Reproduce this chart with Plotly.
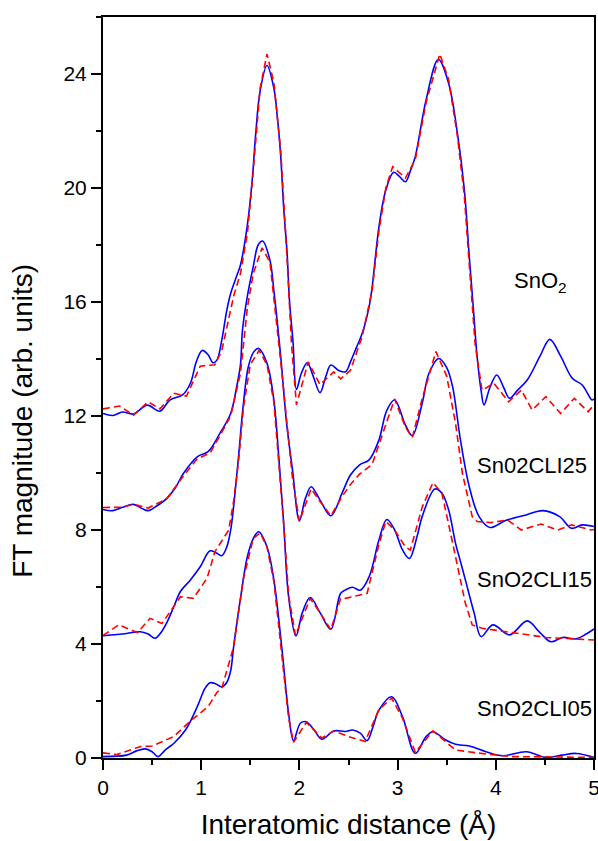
import plotly.graph_objects as go

# ---------------- data ----------------
sno2_exp_x = [0.00, 0.10, 0.20, 0.31, 0.45, 0.58, 0.68, 0.81, 0.89, 0.95, 1.01, 1.07, 1.12, 1.16, 1.21, 1.26,
              1.30, 1.36, 1.40, 1.47, 1.52, 1.555, 1.60, 1.67, 1.74, 1.775, 1.81, 1.84, 1.875, 1.90, 1.935, 1.97,
              2.02, 2.08, 2.14, 2.21, 2.27, 2.32, 2.40, 2.47, 2.52, 2.58, 2.64, 2.71, 2.74, 2.81, 2.88, 2.96,
              3.02, 3.08, 3.13, 3.18, 3.29, 3.415, 3.52, 3.61, 3.68, 3.73, 3.77, 3.81, 3.85, 3.88, 3.94, 4.01,
              4.08, 4.14, 4.22, 4.32, 4.45, 4.55, 4.66, 4.78, 4.88, 4.98, 5.00]
sno2_exp_y = [12.09, 12.02, 12.14, 12.07, 12.38, 12.17, 12.56, 12.74, 13.15, 13.9, 14.3, 14.15, 13.87, 13.96, 14.67, 15.7,
              16.3, 16.9, 17.3, 18.7, 20.3, 21.9, 23.4, 24.3, 23.5, 22.5, 21.1, 19.3, 17.7, 16.0, 14.6, 12.93,
              13.5, 13.87, 13.4, 12.82, 13.4, 13.79, 13.6, 13.55, 13.9, 14.4, 14.9, 15.84, 16.5, 18.64, 19.93, 20.55,
              20.4, 20.22, 20.6, 21.1, 23.09, 24.51, 23.67, 21.9, 19.93, 17.59, 15.84, 14.08, 12.9, 12.39, 13.0, 13.44,
              13.0, 12.62, 12.9, 13.26, 14.1, 14.69, 14.1, 13.32, 13.09, 12.56, 12.6]
sno2_fit_x = [0.00, 0.17, 0.31, 0.46, 0.58, 0.72, 0.85, 0.99, 1.14, 1.21, 1.33, 1.40, 1.47, 1.52, 1.60, 1.67,
              1.74, 1.81, 1.87, 1.92, 1.97, 2.09, 2.21, 2.35, 2.42, 2.52, 2.64, 2.74, 2.81, 2.88, 2.95, 3.08,
              3.18, 3.29, 3.43, 3.52, 3.61, 3.68, 3.73, 3.79, 3.86, 3.98, 4.13, 4.26, 4.37, 4.51, 4.66, 4.80,
              4.94, 5.00]
sno2_fit_y = [12.25, 12.35, 12.03, 12.5, 12.25, 12.8, 12.7, 13.75, 13.8, 14.3, 16.2, 17.0, 18.4, 20.2, 23.5, 24.7,
              23.7, 21.3, 17.8, 14.5, 12.39, 13.9, 13.1, 13.55, 13.3, 13.6, 14.8, 16.4, 18.5, 20.0, 20.75, 20.35,
              21.0, 23.0, 24.7, 23.8, 21.8, 19.7, 17.3, 14.5, 12.9, 13.15, 12.5, 12.91, 12.21, 12.68, 12.09, 12.62,
              12.15, 12.39]

cli25_exp_x = [0.00, 0.10, 0.20, 0.31, 0.40, 0.46, 0.55, 0.65, 0.74, 0.82, 0.96, 1.07, 1.19, 1.30, 1.36, 1.40,
               1.42, 1.47, 1.53, 1.58, 1.625, 1.70, 1.74, 1.81, 1.87, 1.93, 2.00, 2.06, 2.12, 2.21, 2.32, 2.44,
               2.52, 2.61, 2.71, 2.81, 2.89, 2.97, 3.08, 3.15, 3.25, 3.32, 3.42, 3.50, 3.56, 3.64, 3.73, 3.83,
               3.94, 4.10, 4.31, 4.48, 4.65, 4.77, 4.88, 5.00]
cli25_exp_y = [8.72, 8.68, 8.8, 8.9, 8.75, 8.68, 8.85, 9.11, 9.5, 9.99, 10.57, 10.75, 11.39, 12.09, 13.0, 13.8,
               15.0, 16.2, 17.24, 18.0, 18.14, 17.47, 16.4, 14.08, 11.74, 10.1, 8.33, 9.1, 9.52, 9.05, 8.5, 9.34,
               9.93, 10.28, 10.46, 11.16, 12.2, 12.56, 11.68, 11.31, 12.44, 13.5, 14.02, 13.7, 13.03, 11.16, 9.52, 8.47,
               8.09, 8.33, 8.53, 8.68, 8.47, 8.06, 8.18, 8.12]
cli25_fit_x = [0.00, 0.20, 0.31, 0.46, 0.65, 0.82, 0.96, 1.09, 1.19, 1.30, 1.40, 1.47, 1.53, 1.62, 1.70, 1.81,
               1.93, 2.00, 2.12, 2.21, 2.32, 2.44, 2.52, 2.61, 2.74, 2.81, 2.97, 3.08, 3.15, 3.25, 3.39, 3.50,
               3.59, 3.66, 3.76, 3.81, 3.95, 4.12, 4.26, 4.46, 4.63, 4.77, 4.97, 5.00]
cli25_fit_y = [8.79, 8.8, 8.9, 8.77, 9.1, 9.9, 10.5, 10.7, 11.3, 12.0, 13.5, 15.8, 17.0, 17.9, 17.4, 13.9,
               9.8, 8.3, 9.45, 9.0, 8.5, 9.2, 9.6, 9.95, 10.3, 11.0, 12.6, 11.6, 11.25, 12.6, 14.26, 13.4,
               11.74, 9.99, 8.47, 8.3, 8.26, 8.35, 8.0, 8.21, 8.0, 8.18, 8.0, 8.02]

cli15_exp_x = [0.00, 0.24, 0.38, 0.46, 0.53, 0.60, 0.65, 0.72, 0.79, 0.89, 0.99, 1.09, 1.15, 1.21, 1.26, 1.30,
               1.33, 1.38, 1.43, 1.48, 1.535, 1.585, 1.67, 1.74, 1.79, 1.84, 1.89, 1.965, 2.03, 2.11, 2.21, 2.32,
               2.42, 2.47, 2.54, 2.62, 2.71, 2.81, 2.89, 2.97, 3.05, 3.12, 3.20, 3.25, 3.38, 3.45, 3.52, 3.59,
               3.64, 3.69, 3.78, 3.85, 3.97, 4.14, 4.32, 4.45, 4.56, 4.68, 4.82, 4.92, 5.00]
cli15_exp_y = [4.29, 4.37, 4.43, 4.35, 4.2, 4.45, 4.75, 5.3, 5.85, 6.25, 6.71, 7.27, 7.2, 7.1, 7.4, 8.0,
               8.82, 10.57, 12.44, 13.73, 14.25, 14.37, 13.85, 12.56, 10.57, 8.23, 5.66, 4.28, 5.1, 5.63, 5.1, 4.52,
               5.78, 5.9, 5.99, 5.89, 6.36, 7.65, 8.37, 8.0, 7.3, 7.0, 7.8, 8.47, 9.44, 9.3, 8.7, 7.53,
               6.9, 6.25, 5.08, 4.26, 4.67, 4.32, 4.81, 4.4, 4.08, 4.23, 4.18, 4.35, 4.53]
cli15_fit_x = [0.00, 0.16, 0.35, 0.48, 0.60, 0.79, 0.92, 1.06, 1.14, 1.28, 1.33, 1.38, 1.43, 1.50, 1.59, 1.67,
               1.74, 1.84, 1.89, 1.96, 2.11, 2.21, 2.32, 2.42, 2.47, 2.60, 2.69, 2.81, 2.88, 2.97, 3.08, 3.13,
               3.25, 3.36, 3.45, 3.52, 3.59, 3.69, 3.76, 3.86, 4.17, 4.51, 5.00]
cli15_fit_y = [4.3, 4.67, 4.4, 4.9, 4.72, 5.66, 5.6, 6.31, 7.24, 8.0, 9.0, 10.4, 12.3, 13.8, 14.3, 13.8,
               12.5, 8.2, 5.7, 4.3, 5.6, 5.1, 4.5, 5.6, 5.6, 5.7, 5.78, 7.5, 8.3, 8.0, 7.4, 7.3,
               8.8, 9.66, 9.3, 8.2, 7.1, 5.43, 4.67, 4.55, 4.4, 4.23, 4.14]

cli05_exp_x = [0.00, 0.24, 0.34, 0.43, 0.50, 0.56, 0.64, 0.72, 0.84, 0.96, 1.04, 1.09, 1.15, 1.21, 1.26, 1.30,
               1.33, 1.40, 1.47, 1.53, 1.585, 1.67, 1.74, 1.82, 1.89, 1.94, 2.01, 2.07, 2.15, 2.23, 2.35, 2.47,
               2.54, 2.62, 2.69, 2.75, 2.81, 2.94, 3.05, 3.18, 3.29, 3.36, 3.49, 3.59, 3.73, 3.90, 4.07, 4.31,
               4.51, 4.67, 4.82, 5.00]
cli05_exp_y = [0.05, 0.1, 0.25, 0.32, 0.22, 0.05, 0.3, 0.51, 0.98, 1.8, 2.45, 2.64, 2.6, 2.5, 2.65, 3.06,
               3.9, 5.6, 7.06, 7.7, 7.94, 7.41, 6.25, 3.9, 1.57, 0.61, 1.22, 1.27, 0.98, 0.66, 0.95, 0.93,
               0.98, 0.87, 0.61, 1.1, 1.68, 2.15, 1.45, 0.16, 0.75, 0.92, 0.63, 0.48, 0.42, 0.22, 0.08, 0.22,
               0.02, 0.1, 0.16, 0.02]
cli05_fit_x = [0.00, 0.14, 0.38, 0.50, 0.72, 0.89, 1.07, 1.16, 1.21, 1.33, 1.43, 1.53, 1.60, 1.67, 1.74, 1.82,
               1.89, 1.94, 2.07, 2.23, 2.35, 2.50, 2.67, 2.81, 2.94, 3.05, 3.18, 3.36, 3.59, 3.90, 4.17, 5.00]
cli05_fit_y = [0.18, 0.12, 0.4, 0.42, 0.75, 1.3, 1.8, 2.3, 2.45, 3.9, 6.3, 7.7, 7.9, 7.4, 6.2, 3.7,
               1.4, 0.55, 1.25, 0.7, 0.95, 0.75, 0.58, 1.7, 2.1, 1.4, 0.2, 0.95, 0.28, 0.14, 0.05, 0.02]

labels = ["SnO<sub>2</sub>", "Sn02CLI25", "SnO2CLI15", "SnO2CLI05"]
label_x = [4.16, 3.79, 3.79, 3.79]
label_y = [16.7, 10.25, 6.25, 1.75]

x_title = "Interatomic distance (Å)"
y_title = "FT magnitude (arb. units)"

# ---------------- figure ----------------
FONT = "Liberation Sans, Arial, sans-serif"
BLUE = "#0000FF"
RED = "#FF0000"

fig = go.Figure()
series = [
    (sno2_exp_x, sno2_exp_y, sno2_fit_x, sno2_fit_y),
    (cli25_exp_x, cli25_exp_y, cli25_fit_x, cli25_fit_y),
    (cli15_exp_x, cli15_exp_y, cli15_fit_x, cli15_fit_y),
    (cli05_exp_x, cli05_exp_y, cli05_fit_x, cli05_fit_y),
]
for ex, ey, fx, fy in series:
    fig.add_trace(go.Scatter(x=ex, y=ey, mode="lines",
                             line=dict(color=BLUE, width=1.6, shape="spline", smoothing=1.0),
                             showlegend=False, hoverinfo="skip"))
    fig.add_trace(go.Scatter(x=fx, y=fy, mode="lines",
                             line=dict(color=RED, width=1.6, dash="7px,4px"),
                             showlegend=False, hoverinfo="skip"))

for t, lx, ly in zip(labels, label_x, label_y):
    fig.add_annotation(x=lx, y=ly, xref="x", yref="y", text=t, showarrow=False,
                       xanchor="left", yanchor="middle",
                       font=dict(family=FONT, size=22, color="#000000"))

# y-axis title (placed as a rotated annotation to match the reference position)
fig.add_annotation(x=-0.163, y=0.455, xref="paper", yref="paper", text=y_title,
                   showarrow=False, textangle=-90, xanchor="center", yanchor="middle",
                   font=dict(family=FONT, size=28, color="#000000"))

axis_common = dict(showline=True, linecolor="#000000", linewidth=2, mirror=True,
                   ticks="outside", ticklen=10, tickwidth=2, tickcolor="#000000",
                   showgrid=False, zeroline=False, ticklabeloverflow="allow",
                   tickfont=dict(family=FONT, size=21, color="#000000"))

fig.update_xaxes(range=[0, 5], tick0=0, dtick=1,
                 minor=dict(dtick=0.5, ticklen=5, tickwidth=2, tickcolor="#000000", ticks="outside"),
                 title=dict(text=x_title, font=dict(family=FONT, size=28, color="#000000"), standoff=16),
                 **axis_common)
fig.update_yaxes(range=[0, 26], tick0=0, dtick=4,
                 minor=dict(dtick=2, ticklen=5, tickwidth=2, tickcolor="#000000", ticks="outside"),
                 **axis_common)

fig.update_layout(width=598, height=841,
                  margin=dict(l=103, r=4, t=17, b=83, autoexpand=False),
                  paper_bgcolor="#FFFFFF", plot_bgcolor="#FFFFFF",
                  font=dict(family=FONT, color="#000000"))

fig.write_html("out.html")
